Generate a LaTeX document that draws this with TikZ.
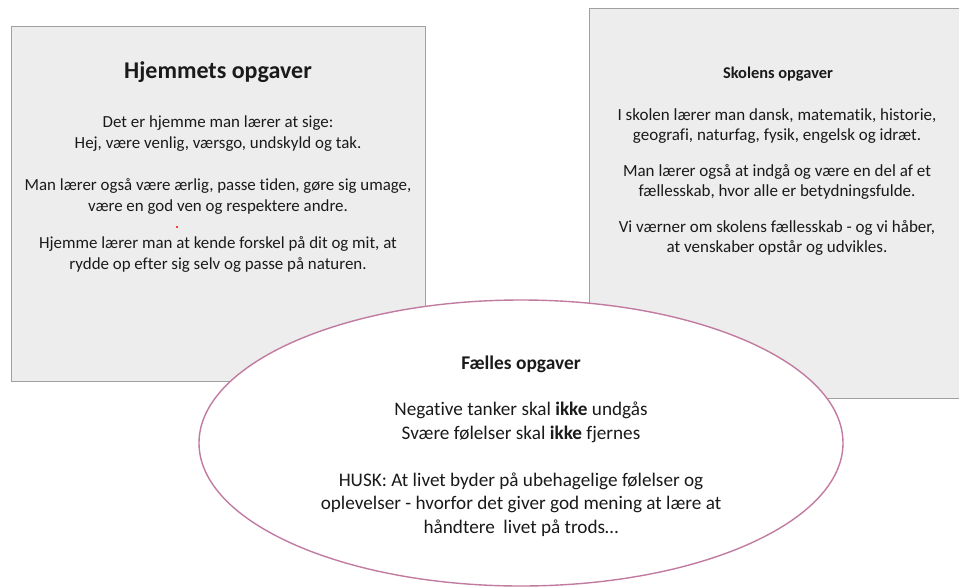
\documentclass[tikz,border=0pt]{standalone}
\usepackage{fontspec}
\setmainfont{Carlito}[Ligatures=NoCommon]
\usetikzlibrary{shapes.geometric,positioning}
\definecolor{boxfill}{HTML}{EDEDED}
\definecolor{boxline}{HTML}{A0A0A0}
\definecolor{ringline}{HTML}{C27BA0}
\definecolor{inktext}{HTML}{1A1A1A}

\begin{document}
\begin{tikzpicture}[
x=1pt,y=-1pt,
opgbox/.style={draw=boxline, fill=boxfill, line width=1pt, anchor=north west, inner sep=0pt},
ring/.style={ellipse, draw=ringline, fill=white, line width=1.4pt, inner sep=0pt},
bigtitle/.style={text=inktext, font=\fontsize{24}{28}\selectfont\bfseries},
smalltitle/.style={text=inktext, font=\fontsize{16.4}{19}\selectfont\bfseries},
ringtitle/.style={text=inktext, font=\fontsize{19.4}{22}\selectfont\bfseries},
bodytext/.style={text=inktext, align=center, inner sep=0pt},
]
	\useasboundingbox (0,0) rectangle (959,587);
	\node[opgbox, minimum width=414pt, minimum height=355pt] (hjem) at (11,26) {};
	\node[opgbox, minimum width=390pt, minimum height=390pt] (skole) at (589,8) {};
	\node[ring, minimum width=644pt, minimum height=286pt] (faelles) at (521,443) {}; %fælles

	\node[bigtitle] (hjemtitel) at (218,72) {Hjemmets opgaver};
	\node[bodytext, font=\fontsize{16.9}{21.3}\selectfont] (hjemtekst) at (218,194) {
		Det er hjemme man lærer at sige:\\
		Hej, være venlig, værsgo, undskyld og tak.\\[20pt]
		Man lærer også være ærlig, passe tiden, gøre sig umage,\\
		være en god ven og respektere andre.\\[15.5pt]
		Hjemme lærer man at kende forskel på dit og mit, at\\
		rydde op efter sig selv og passe på naturen.};
	\fill[red] (177,227) circle (1.1pt);

	\node[smalltitle] (skoletitel) at (778,74) {Skolens opgaver};
	\node[bodytext, font=\fontsize{17}{19.8}\selectfont] (skoletekst) at (777,182) {
		I skolen lærer man dansk, matematik, historie,\\
		geografi, naturfag, fysik, engelsk og idræt.\\[16.5pt]
		Man lærer også at indgå og være en del af et\\
		fællesskab, hvor alle er betydningsfulde.\\[16.5pt]
		Vi værner om skolens fællesskab - og vi håber,\\
		at venskaber opstår og udvikles.};

	\node[ringtitle] (faellestitel) at (521,364) {Fælles opgaver};
	\node[bodytext, font=\fontsize{19.2}{23.5}\selectfont] (faellestekst) at (521,469) {
		Negative tanker skal \textbf{ikke} undgås\\
		Svære følelser skal \textbf{ikke} fjernes\\[23.5pt]
		HUSK: At livet byder på ubehagelige følelser og\\
		oplevelser - hvorfor det giver god mening at lære at\\
		håndtere\ \ livet på trods\dots};
\end{tikzpicture}
\end{document}
